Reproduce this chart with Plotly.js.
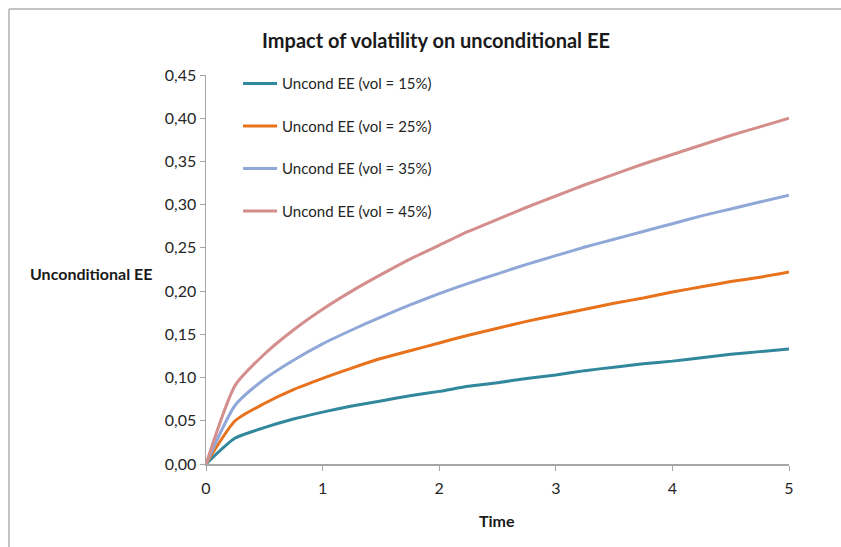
<!DOCTYPE html>
<html>
<head>
<meta charset="utf-8">
<script src="https://cdn.plot.ly/plotly-3.0.1.min.js"></script>
<style>
  html, body { margin: 0; padding: 0; background: #fff; overflow: hidden; }
  #chart { width: 841px; height: 547px; }
</style>
</head>
<body>
<div id="chart"></div>
<script>
const time = [0, 0.25, 0.5, 0.75, 1, 1.25, 1.5, 1.75, 2, 2.25, 2.5, 2.75, 3, 3.25, 3.5, 3.75, 4, 4.25, 4.5, 4.75, 5];
const vol15 = [0, 0.030, 0.042, 0.052, 0.060, 0.067, 0.073, 0.079, 0.084, 0.090, 0.094, 0.099, 0.103, 0.108, 0.112, 0.116, 0.119, 0.123, 0.127, 0.130, 0.133];
const vol25 = [0, 0.050, 0.070, 0.086, 0.099, 0.111, 0.122, 0.131, 0.140, 0.149, 0.157, 0.165, 0.172, 0.179, 0.186, 0.192, 0.199, 0.205, 0.211, 0.216, 0.222];
const vol35 = [0, 0.068, 0.098, 0.120, 0.139, 0.155, 0.170, 0.184, 0.197, 0.209, 0.220, 0.231, 0.241, 0.251, 0.260, 0.269, 0.278, 0.287, 0.295, 0.303, 0.311];
const vol45 = [0, 0.091, 0.127, 0.155, 0.179, 0.200, 0.219, 0.237, 0.253, 0.269, 0.283, 0.297, 0.310, 0.323, 0.335, 0.347, 0.358, 0.369, 0.380, 0.390, 0.400];
const seriesNames = ["Uncond EE (vol = 15%)", "Uncond EE (vol = 25%)", "Uncond EE (vol = 35%)", "Uncond EE (vol = 45%)"];
const seriesValues = [vol15, vol25, vol35, vol45];
const colors = ["#31879B", "#E8721C", "#8FA8D8", "#D48E8C"];

const FONT = 'Lato, "Open Sans", sans-serif';

const traces = seriesValues.map((v, i) => ({
  x: time, y: v, type: 'scatter', mode: 'lines', name: seriesNames[i],
  legendgroup: 'g' + i,
  line: { color: colors[i], width: 3, shape: 'spline', smoothing: 0.6 }
}));

// pixel -> paper helpers for the frame
const PL = 206, PW = 583, PB = 464, PH = 389;
const px = p => (p - PL) / PW;
const py = p => (PB - p) / PH;

const layout = {
  width: 841, height: 547,
  margin: { l: 206, r: 52, t: 75, b: 83 },
  paper_bgcolor: '#fff', plot_bgcolor: '#fff',
  separators: ',.',
  font: { family: FONT, size: 16, color: '#262626' },
  title: { text: '<b>Impact of volatility on unconditional EE</b>', x: 436 / 841, xref: 'container', xanchor: 'center',
           y: 1 - 41 / 547, yref: 'container', yanchor: 'middle', font: { family: FONT, size: 20, color: '#1a1a1a' } },
  xaxis: { range: [0, 5], dtick: 1, tick0: 0, showgrid: false, zeroline: false, showline: true,
           linecolor: '#a6a6a6', linewidth: 1.5, ticks: 'outside', ticklen: 5, tickcolor: '#a6a6a6',
           ticklabelstandoff: 4, tickfont: { size: 16 }, fixedrange: true },
  yaxis: { range: [0, 0.45], dtick: 0.05, tick0: 0, tickformat: '.2f', showgrid: false, zeroline: false, showline: true,
           linecolor: '#a6a6a6', linewidth: 1.5, ticks: 'outside', ticklen: 5, tickcolor: '#a6a6a6',
           tickfont: { size: 16 }, fixedrange: true },
  showlegend: true,
  legend: { x: 0.055, y: 1.02, xanchor: 'left', yanchor: 'top', tracegroupgap: 20, itemwidth: 34,
            font: { family: FONT, size: 15, color: '#262626' }, bgcolor: 'rgba(0,0,0,0)' },
  shapes: [
    { type: 'line', xref: 'paper', yref: 'paper', x0: px(9), x1: px(845), y0: py(9), y1: py(9),
      line: { color: '#c3c3c3', width: 2 } },
    { type: 'line', xref: 'paper', yref: 'paper', x0: px(9), x1: px(9), y0: py(9), y1: py(550),
      line: { color: '#c3c3c3', width: 2 } }
  ],
  annotations: [
    { text: '<b>Unconditional EE</b>', xref: 'paper', yref: 'paper', x: px(91), y: py(273),
      xanchor: 'center', yanchor: 'middle', showarrow: false, font: { family: FONT, size: 16, color: '#1a1a1a' } },
    { text: '<b>Time</b>', xref: 'paper', yref: 'paper', x: px(497), y: py(520),
      xanchor: 'center', yanchor: 'middle', showarrow: false, font: { family: FONT, size: 16, color: '#1a1a1a' } }
  ]
};

Plotly.newPlot('chart', traces, layout, { displayModeBar: false, staticPlot: true });
</script>
</body>
</html>
